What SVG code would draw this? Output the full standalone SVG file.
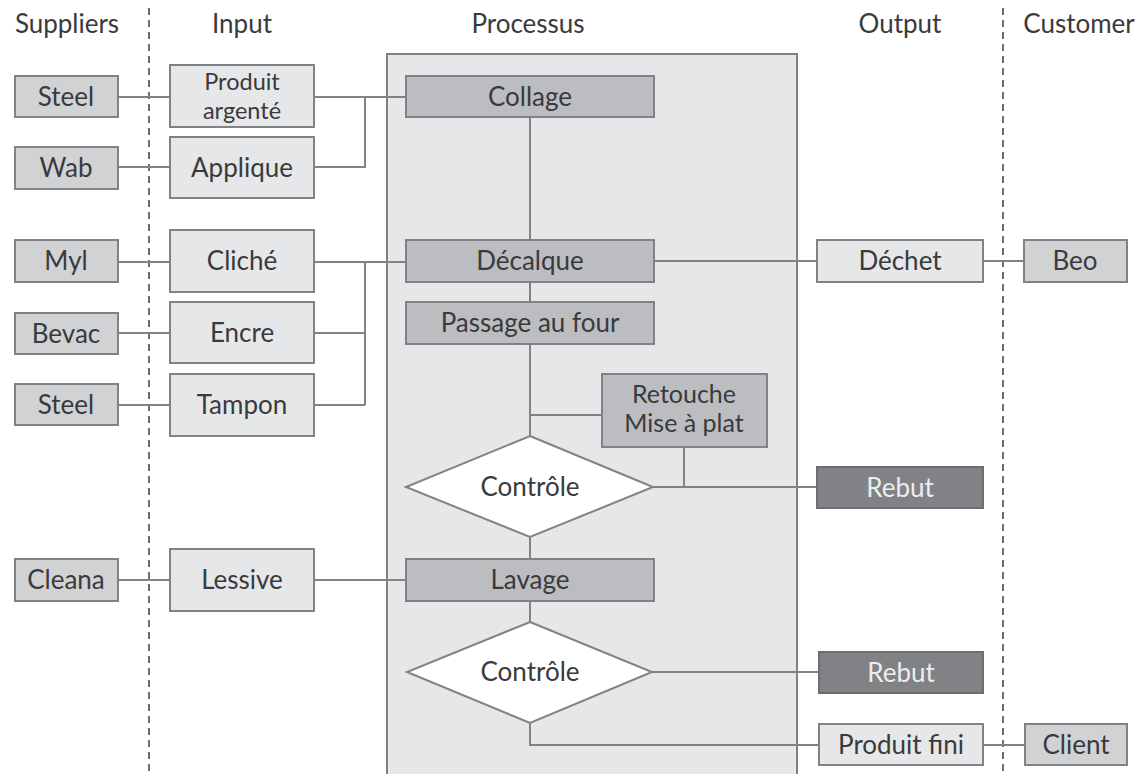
<svg xmlns="http://www.w3.org/2000/svg" width="1140" height="774" viewBox="0 0 1140 774">
  <style>
    text { font-family: Lato, "Liberation Sans", sans-serif; font-size: 26px; fill: #3a3a3c; text-anchor: middle; }
    .two { font-size: 25px; }
    .tight { font-size: 23.5px; }
    .sup { fill: #d1d2d4; stroke: #808285; stroke-width: 2; }
    .io { fill: #e6e7e8; stroke: #808285; stroke-width: 2; }
    .proc { fill: #bcbdc0; stroke: #808285; stroke-width: 2; }
    .dec { fill: #ffffff; stroke: #808285; stroke-width: 2; }
    .rej { fill: #808285; stroke: #6d6e71; stroke-width: 2; }
    .rej-t { fill: #eceded; }
    .panel { fill: #e6e7e8; stroke: #808285; stroke-width: 2; }
    .lane { stroke: #6d6e71; stroke-width: 2; stroke-dasharray: 7 5; fill: none; }
    .edge { stroke: #808285; stroke-width: 2; fill: none; }
  </style>

  <rect width="1140" height="774" fill="#ffffff"/>

  <!-- column headings -->
  <g id="headings">
    <text x="67" y="33">Suppliers</text>
    <text x="242" y="33">Input</text>
    <text x="528" y="33">Processus</text>
    <text x="900" y="33">Output</text>
    <text x="1079" y="33">Customer</text>
  </g>

  <!-- lane separators -->
  <g id="lanes">
    <line class="lane" x1="149" y1="8" x2="149" y2="774"/>
    <line class="lane" x1="1003" y1="8" x2="1003" y2="774"/>
  </g>

  <!-- process area -->
  <rect id="processus" class="panel" x="387" y="54" width="410" height="730"/>

  <!-- connectors -->
  <g id="connectors">
    <path class="edge" d="M118 97 H170 M118 167 H170"/>
    <path class="edge" d="M314 97 H406 M314 167 H365 V97"/>
    <path class="edge" d="M118 262 H170 M118 333 H170 M118 405 H170"/>
    <path class="edge" d="M314 262 H406 M314 333 H365 M314 405 H365 M365 262 V405"/>
    <path class="edge" d="M118 580 H170 M314 580 H406"/>
    <path class="edge" d="M530 117 V240 M530 282 V302 M530 344 V436 M530 415 H602"/>
    <path class="edge" d="M684 447 V487 M653 487 H817"/>
    <path class="edge" d="M654 261 H817 M983 261 H1024"/>
    <path class="edge" d="M530 537 V559 M530 601 V622"/>
    <path class="edge" d="M652 672 H819"/>
    <path class="edge" d="M530 723 V745 H819 M983 745 H1025"/>
  </g>

  <!-- suppliers -->
  <g id="sup-steel-1"><rect class="sup" x="15" y="76" width="103" height="41"/><text x="66" y="106">Steel</text></g>
  <g id="sup-wab"><rect class="sup" x="15" y="147" width="103" height="42"/><text x="66" y="177">Wab</text></g>
  <g id="sup-myl"><rect class="sup" x="15" y="240" width="103" height="42"/><text x="66" y="270">Myl</text></g>
  <g id="sup-bevac"><rect class="sup" x="15" y="313" width="103" height="41"/><text x="66" y="343">Bevac</text></g>
  <g id="sup-steel-2"><rect class="sup" x="15" y="384" width="103" height="41"/><text x="66" y="414">Steel</text></g>
  <g id="sup-cleana"><rect class="sup" x="15" y="559" width="103" height="42"/><text x="66" y="589">Cleana</text></g>

  <!-- inputs -->
  <g id="in-produit-argente"><rect class="io" x="170" y="65" width="144" height="62"/><text class="tight" x="242" y="90">Produit</text><text class="tight" x="242" y="119">argenté</text></g>
  <g id="in-applique"><rect class="io" x="170" y="137" width="144" height="61"/><text x="242" y="177">Applique</text></g>
  <g id="in-cliche"><rect class="io" x="170" y="230" width="144" height="62"/><text x="242" y="270">Cliché</text></g>
  <g id="in-encre"><rect class="io" x="170" y="302" width="144" height="61"/><text x="242" y="342">Encre</text></g>
  <g id="in-tampon"><rect class="io" x="170" y="374" width="144" height="62"/><text x="242" y="414">Tampon</text></g>
  <g id="in-lessive"><rect class="io" x="170" y="549" width="144" height="62"/><text x="242" y="589">Lessive</text></g>

  <!-- process steps -->
  <g id="p-collage"><rect class="proc" x="406" y="76" width="248" height="41"/><text x="530" y="106">Collage</text></g>
  <g id="p-decalque"><rect class="proc" x="406" y="240" width="248" height="42"/><text x="530" y="270">Décalque</text></g>
  <g id="p-four"><rect class="proc" x="406" y="302" width="248" height="42"/><text x="530" y="332">Passage au four</text></g>
  <g id="p-retouche"><rect class="proc" x="602" y="374" width="165" height="73"/><text class="two" x="684" y="403">Retouche</text><text class="two" x="684" y="432">Mise à plat</text></g>
  <g id="p-controle-1"><polygon class="dec" points="530,436 653,487 530,537 406,487"/><text x="530" y="496">Contrôle</text></g>
  <g id="p-lavage"><rect class="proc" x="406" y="559" width="248" height="42"/><text x="530" y="589">Lavage</text></g>
  <g id="p-controle-2"><polygon class="dec" points="530,622 652,672 530,723 407,672"/><text x="530" y="681">Contrôle</text></g>

  <!-- outputs -->
  <g id="out-dechet"><rect class="io" x="817" y="240" width="166" height="42"/><text x="900" y="270">Déchet</text></g>
  <g id="out-rebut-1"><rect class="rej" x="817" y="467" width="166" height="41"/><text class="rej-t" x="900" y="497">Rebut</text></g>
  <g id="out-rebut-2"><rect class="rej" x="819" y="652" width="164" height="41"/><text class="rej-t" x="901" y="682">Rebut</text></g>
  <g id="out-produit-fini"><rect class="io" x="819" y="724" width="164" height="41"/><text x="901" y="754">Produit fini</text></g>

  <!-- customers -->
  <g id="cust-beo"><rect class="sup" x="1024" y="240" width="103" height="42"/><text x="1075" y="270">Beo</text></g>
  <g id="cust-client"><rect class="sup" x="1025" y="724" width="102" height="41"/><text x="1076" y="754">Client</text></g>
</svg>
